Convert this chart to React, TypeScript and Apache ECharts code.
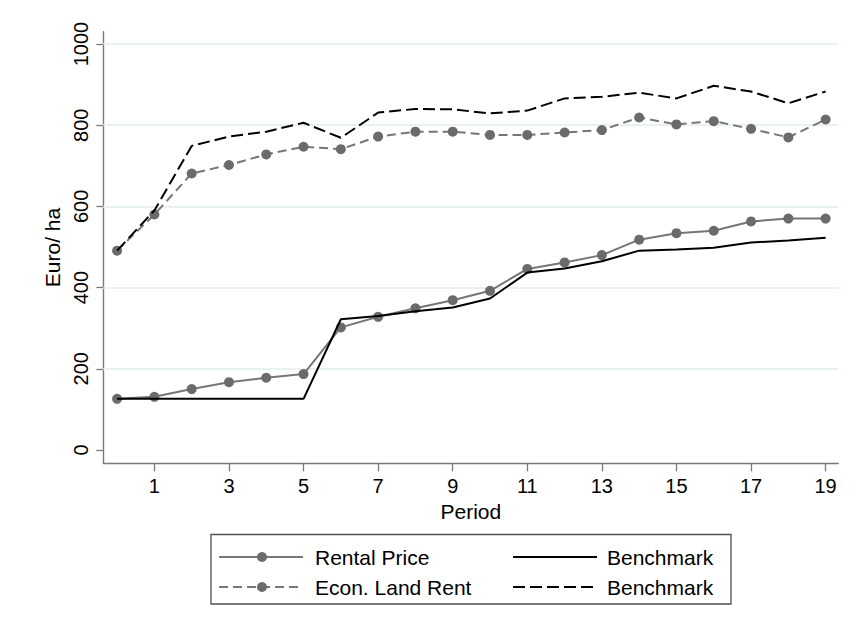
import React, { useEffect, useRef } from "react";
import * as echarts from "echarts";

// Periods 0..19 and the four price series (Euro per ha)
const periods = [0, 1, 2, 3, 4, 5, 6, 7, 8, 9, 10, 11, 12, 13, 14, 15, 16, 17, 18, 19];
const rentalPrice = [126, 131, 150, 167, 178, 187, 302, 328, 349, 369, 392, 446, 462, 480, 518, 534, 540, 563, 570, 570];
const rentalBenchmark = [126, 126, 126, 126, 126, 126, 322, 330, 342, 351, 373, 437, 447, 465, 491, 494, 498, 511, 516, 523];
const econLandRent = [491, 580, 681, 702, 728, 747, 741, 772, 784, 784, 776, 776, 782, 788, 819, 802, 810, 791, 770, 814];
const landRentBenchmark = [491, 590, 749, 772, 784, 806, 769, 831, 840, 839, 829, 836, 866, 870, 880, 866, 897, 883, 854, 883];

// Axis ticks
const xTicks = [1, 3, 5, 7, 9, 11, 13, 15, 17, 19];
const yTicks = [0, 200, 400, 600, 800, 1000];
const gridValues = [200, 400, 600, 800, 1000];

const FONT = "'Liberation Sans', Arial, sans-serif";
const GRAY = "#767676";
const MARKER = "#6b6b6b";
const AXIS = "#7a7a7a";

const pairs = (ys: number[]) => periods.map((p, i) => [p, ys[i]]);

export default function App() {
  const ref = useRef<HTMLDivElement>(null);

  useEffect(() => {
    if (!ref.current) return;
    const chart = echarts.init(ref.current, undefined, { renderer: "svg" });

    const row1 = 557;
    const row2 = 587;

    chart.setOption({
      animation: false,
      backgroundColor: "#ffffff",
      grid: { left: 103.3, right: 28.7, top: 31.7, bottom: 171.7 },
      xAxis: {
        type: "value",
        min: -0.37,
        max: 19.34,
        name: "Period",
        nameLocation: "middle",
        nameGap: 35,
        nameTextStyle: { fontFamily: FONT, fontSize: 21, color: "#000" },
        axisLine: { show: true, onZero: false, lineStyle: { color: AXIS, width: 1.4 } },
        axisTick: { show: true, length: 8, customValues: xTicks, lineStyle: { color: AXIS, width: 1.3 } },
        axisLabel: {
          customValues: xTicks,
          margin: 13,
          fontFamily: FONT,
          fontSize: 20,
          color: "#000",
          formatter: (v: number) => String(v),
        },
        splitLine: { show: false },
      },
      yAxis: {
        type: "value",
        min: -32.8,
        max: 1030.3,
        name: "Euro/ ha",
        nameLocation: "middle",
        nameRotate: 90,
        nameGap: 37,
        nameTextStyle: { fontFamily: FONT, fontSize: 21, color: "#000" },
        axisLine: { show: true, onZero: false, lineStyle: { color: AXIS, width: 1.4 } },
        axisTick: { show: true, length: 7, customValues: yTicks, lineStyle: { color: AXIS, width: 1.3 } },
        axisLabel: {
          customValues: yTicks,
          rotate: 90,
          margin: 12,
          fontFamily: FONT,
          fontSize: 20,
          color: "#000",
          formatter: (v: number) => String(v),
        },
        splitLine: { show: false },
      },
      series: [
        {
          name: "Rental Price",
          type: "line",
          data: pairs(rentalPrice),
          symbol: "circle",
          symbolSize: 10,
          itemStyle: { color: MARKER },
          lineStyle: { color: GRAY, width: 2 },
          z: 2,
          markLine: {
            silent: true,
            symbol: "none",
            label: { show: false },
            lineStyle: { color: "#eaf1f3", width: 2, type: "solid" },
            z: 1,
            data: gridValues.map((v) => ({ yAxis: v })),
          },
        },
        {
          name: "Econ. Land Rent",
          type: "line",
          data: pairs(econLandRent),
          symbol: "circle",
          symbolSize: 10,
          itemStyle: { color: MARKER },
          lineStyle: { color: GRAY, width: 2, type: [9, 5] },
          z: 2,
        },
        {
          name: "Benchmark",
          type: "line",
          data: pairs(rentalBenchmark),
          symbol: "none",
          lineStyle: { color: "#000", width: 2 },
          z: 3,
        },
        {
          name: "Benchmark",
          type: "line",
          data: pairs(landRentBenchmark),
          symbol: "none",
          lineStyle: { color: "#000", width: 2, type: [12, 5] },
          z: 3,
        },
      ],
      graphic: [
        {
          type: "rect",
          shape: { x: 211, y: 534.5, width: 520, height: 69.5 },
          style: { fill: "#fff", stroke: "#505050", lineWidth: 1.3 },
        },
        { type: "line", shape: { x1: 219, y1: row1, x2: 303, y2: row1 }, style: { stroke: GRAY, lineWidth: 2 } },
        { type: "circle", shape: { cx: 262, cy: row1, r: 5 }, style: { fill: MARKER } },
        { type: "line", shape: { x1: 219, y1: row2, x2: 303, y2: row2 }, style: { stroke: GRAY, lineWidth: 2, lineDash: [9, 5] } },
        { type: "circle", shape: { cx: 262, cy: row2, r: 5 }, style: { fill: MARKER } },
        { type: "text", x: 315, y: row1, style: { text: "Rental Price", font: `21px ${FONT}`, fill: "#000", verticalAlign: "middle" } },
        { type: "text", x: 315, y: row2, style: { text: "Econ. Land Rent", font: `21px ${FONT}`, fill: "#000", verticalAlign: "middle" } },
        { type: "line", shape: { x1: 513, y1: row1, x2: 597, y2: row1 }, style: { stroke: "#000", lineWidth: 2 } },
        { type: "line", shape: { x1: 513, y1: row2, x2: 597, y2: row2 }, style: { stroke: "#000", lineWidth: 2, lineDash: [12, 5] } },
        { type: "text", x: 607, y: row1, style: { text: "Benchmark", font: `21px ${FONT}`, fill: "#000", verticalAlign: "middle" } },
        { type: "text", x: 607, y: row2, style: { text: "Benchmark", font: `21px ${FONT}`, fill: "#000", verticalAlign: "middle" } },
      ],
    });

    return () => chart.dispose();
  }, []);

  return (
    <div
      ref={ref}
      style={{ position: "fixed", left: 0, top: 0, width: 867, height: 635, background: "#fff" }}
    />
  );
}
